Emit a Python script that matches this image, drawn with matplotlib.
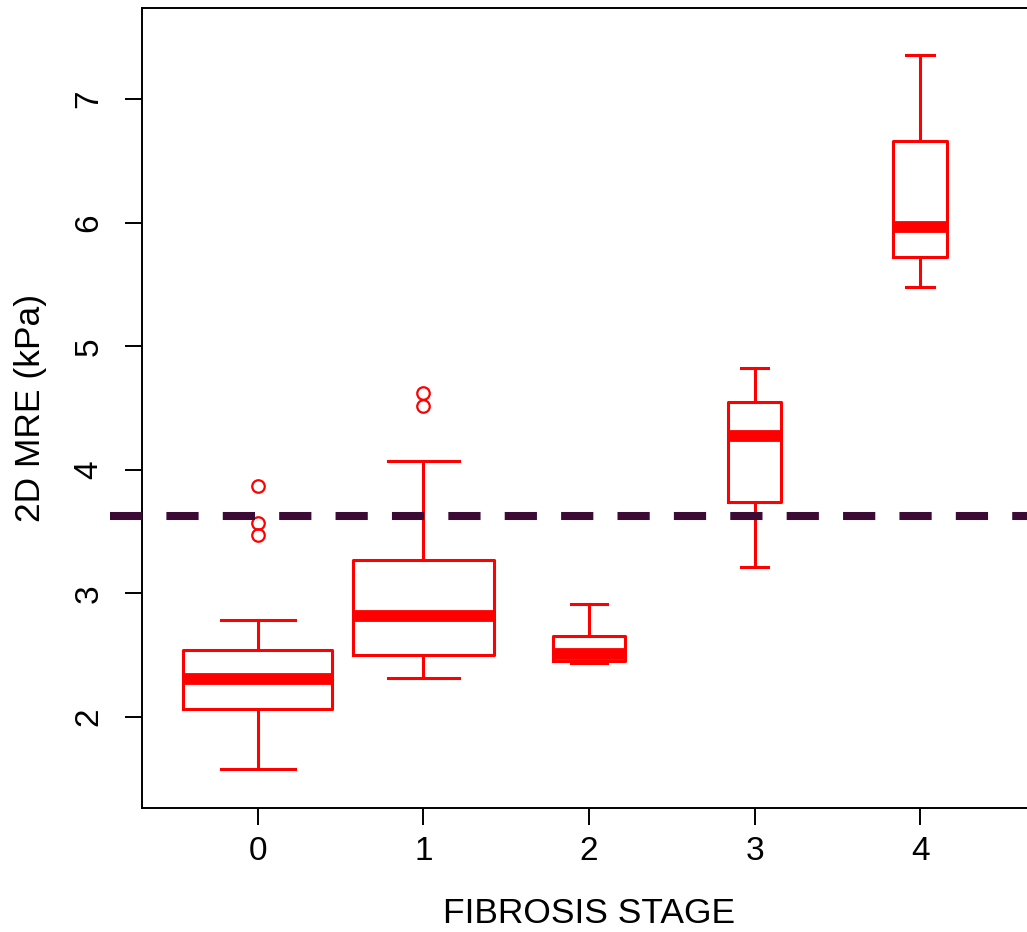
import matplotlib
matplotlib.use("Agg")
import matplotlib.pyplot as plt

plt.rcParams['font.family'] = ['Liberation Sans', 'DejaVu Sans']

# box statistics per fibrosis stage (kPa)
stages = ['0', '1', '2', '3', '4']
whislo = [1.578, 2.313, 2.435, 3.214, 5.477]
q1 = [2.062, 2.502, 2.450, 3.740, 5.724]
med = [2.310, 2.815, 2.512, 4.273, 5.967]
q3 = [2.542, 3.268, 2.658, 4.549, 6.663]
whishi = [2.785, 4.070, 2.912, 4.824, 7.356]
fliers = [[3.87, 3.57, 3.47], [4.62, 4.515], [], [], []]
# relative box widths (R varwidth)
widths = [0.90, 0.85, 0.44, 0.32, 0.33]
cutoff = 3.625

red = '#ff0000'

fig = plt.figure(figsize=(10.27, 9.32), dpi=100)
ax = fig.add_axes([142 / 1027, 124 / 932, 894 / 1027, 800 / 932])

stats = []
for i in range(len(stages)):
    stats.append(dict(label=stages[i], whislo=whislo[i], q1=q1[i], med=med[i],
                      q3=q3[i], whishi=whishi[i], fliers=fliers[i]))

ax.bxp(stats, positions=range(len(stages)), widths=widths,
       capwidths=[w / 2 for w in widths],
       boxprops=dict(color=red, linewidth=2.2),
       whiskerprops=dict(color=red, linewidth=2.2),
       capprops=dict(color=red, linewidth=2.2),
       medianprops=dict(color=red, linewidth=8.5, solid_capstyle='butt'),
       flierprops=dict(marker='o', markersize=9, markerfacecolor='none',
                       markeredgecolor=red, markeredgewidth=1.6))

ax.axhline(cutoff, xmin=-0.036, xmax=1.0, color='#3b0a35', linewidth=5.8,
           linestyle=(0, (4, 3)), clip_on=False, zorder=5)

ax.set_xlim(-0.7, 4.7)
ax.set_ylim(1.264, 7.736)
ax.set_yticks([2, 3, 4, 5, 6, 7])
ax.set_xticks(range(len(stages)))
ax.set_xticklabels(stages)

for s in ax.spines.values():
    s.set_linewidth(1.4)
ax.tick_params(axis='both', length=12, width=1.4, labelsize=24)
ax.tick_params(axis='x', pad=8)
ax.tick_params(axis='y', pad=15)
for lab in ax.get_yticklabels():
    lab.set_rotation(90)
    lab.set_va('center')

ax.set_xlabel('FIBROSIS STAGE', fontsize=25.5)
ax.set_ylabel('2D MRE (kPa)', fontsize=25.5)
ax.xaxis.set_label_coords(0.5, -0.111)
ax.yaxis.set_label_coords(-0.106, 0.5)

fig.savefig('out.png', dpi=100)
